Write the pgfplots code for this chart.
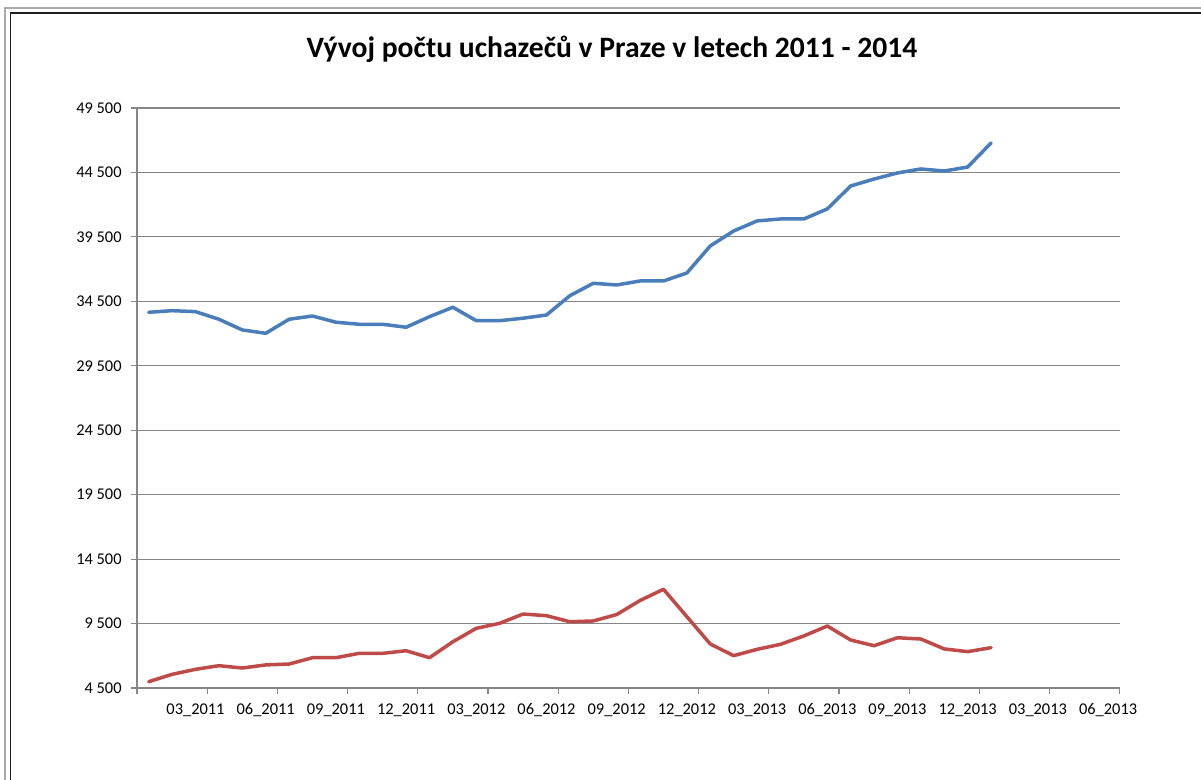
\documentclass[border=0pt]{standalone}
\usepackage{pgfplots}
\pgfplotsset{compat=1.18}
\usepackage{fontspec}
\setmainfont{Carlito}
\definecolor{serblue}{HTML}{4A7EBB}
\definecolor{serred}{HTML}{BE4B48}
\definecolor{gridgray}{HTML}{868686}
\begin{document}
\begin{tikzpicture}
\path[use as bounding box] (0,0) rectangle (600.5bp,390bp);
\draw[color={rgb,255:red,170;green,170;blue,170}, line width=0.8bp] (2.5bp,0) -- (2.5bp,386bp) -- (600.5bp,386bp);
\draw[color={rgb,255:red,30;green,30;blue,30}, line width=0.8bp] (5.25bp,0) -- (5.25bp,383.5bp) -- (600.5bp,383.5bp);
\node[anchor=base, font=\fontsize{14.8bp}{18bp}\selectfont\bfseries, inner sep=0pt] at (306bp,361bp) {Vývoj počtu uchazečů v Praze v letech 2011 - 2014};
\begin{axis}[
  at={(68.5bp,46bp)}, anchor=south west,
  scale only axis, width=491.4bp, height=290bp,
  xmin=-0.5, xmax=41.5, ymin=4500, ymax=49500,
  scaled y ticks=false,
  axis lines*=left,
  axis line style={gridgray, line width=0.6bp},
  tick align=outside,
  xtick pos=bottom, ytick pos=left,
  xtick={2,5,...,41},
  xticklabels={03\_2011,06\_2011,09\_2011,12\_2011,03\_2012,06\_2012,09\_2012,12\_2012,03\_2013,06\_2013,09\_2013,12\_2013,03\_2013,06\_2013},
  major x tick style={draw=none},
  minor xtick={-0.5,2.5,...,41.5},
  minor tick length=3bp,
  major tick length=3bp,
  minor x tick style={gridgray, line width=0.6bp},
  ytick={4500,9500,...,49500},
  yticklabels={4 500,9 500,14 500,19 500,24 500,29 500,34 500,39 500,44 500,49 500},
  y tick style={gridgray, line width=0.6bp},
  ymajorgrids, major grid style={gridgray, line width=0.6bp},
  ticklabel style={font=\fontsize{8.2bp}{10bp}\selectfont, inner sep=0pt},
  xticklabel style={anchor=north, yshift=-4.5bp},
  yticklabel style={anchor=east, xshift=-4.5bp},
  clip=false,
]
\addplot[serblue, line width=1.75bp, line join=round, line cap=round] coordinates {
(0,33650) (1,33775) (2,33700) (3,33110) (4,32280) (5,32020) (6,33110) (7,33360)
(8,32880) (9,32720) (10,32720) (11,32490) (12,33310) (13,34040) (14,33000) (15,33000)
(16,33190) (17,33440) (18,34940) (19,35900) (20,35770) (21,36080) (22,36080) (23,36700)
(24,38800) (25,39960) (26,40740) (27,40890) (28,40890) (29,41670) (30,43450) (31,43990)
(32,44460) (33,44770) (34,44610) (35,44920) (36,46790)
};
\addplot[serred, line width=1.75bp, line join=round, line cap=round] coordinates {
(0,4990) (1,5560) (2,5950) (3,6230) (4,6050) (5,6290) (6,6360) (7,6850)
(8,6850) (9,7190) (10,7190) (11,7390) (12,6850) (13,8090) (14,9130) (15,9520)
(16,10240) (17,10110) (18,9640) (19,9700) (20,10200) (21,11290) (22,12160) (23,10030)
(24,7910) (25,7010) (26,7500) (27,7890) (28,8540) (29,9310) (30,8220) (31,7780)
(32,8400) (33,8300) (34,7530) (35,7320) (36,7630)
};
\end{axis}
\end{tikzpicture}
\end{document}
